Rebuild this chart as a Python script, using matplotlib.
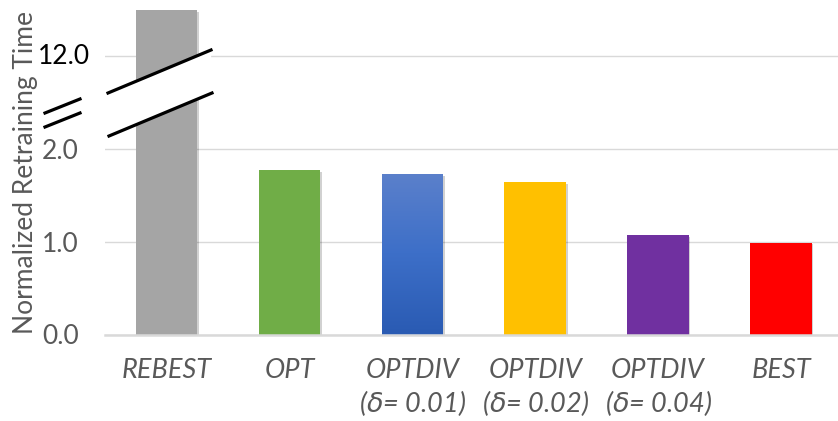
import numpy as np
import matplotlib
matplotlib.use("Agg")
import matplotlib.pyplot as plt
from matplotlib.colors import LinearSegmentedColormap
from matplotlib.patches import Polygon
from matplotlib.lines import Line2D
import matplotlib.patheffects as pe

plt.rcParams['font.family'] = ['Lato', 'DejaVu Sans']

# normalized retraining time per method
methods = ["REBEST", "OPT", "OPTDIV\n($\\delta$= 0.01)", "OPTDIV\n($\\delta$= 0.02)",
           "OPTDIV\n($\\delta$= 0.04)", "BEST"]
times = [17.0, 1.77, 1.73, 1.64, 1.07, 0.99]
colors = ["#a5a5a5", "#70ad47", "#3a6cc4", "#ffc000", "#7030a0", "#ff0000"]
yticks = [0, 1, 2, 12]
ytick_labels = ["0.0", "1.0", "2.0", ""]

# axis is linear up to 2, then compressed 10x above the break
BREAK = 2.0
SQUEEZE = 10.0


def fwd(y):
    y = np.asarray(y, dtype=float)
    return np.where(y <= BREAK, y, BREAK + (y - BREAK) / SQUEEZE)


def inv(y):
    y = np.asarray(y, dtype=float)
    return np.where(y <= BREAK, y, BREAK + (y - BREAK) * SQUEEZE)


W, H = 838, 421
fig = plt.figure(figsize=(W / 100, H / 100), dpi=100)
ax = fig.add_axes([105 / W, (H - 334.5) / H, 735 / W, 324.5 / H])
ax.set_yscale('function', functions=(fwd, inv))

x = np.arange(len(methods))
shadow = [pe.SimplePatchShadow(offset=(1.2, -1.2), shadow_rgbFace='#000000', alpha=0.18),
          pe.Normal()]
bars = ax.bar(x, times, width=0.5, color=colors, zorder=3)
for b in bars:
    b.set_path_effects(shadow)

# blue bar gets a vertical gradient
grad_bar = bars[2]
cmap = LinearSegmentedColormap.from_list("blu", ["#2a5bb3", "#3d6fc8", "#5b80cb"])
bx = grad_bar.get_x()
img = ax.imshow(np.linspace(0, 1, 256).reshape(-1, 1), cmap=cmap, origin='lower',
                extent=(bx, bx + grad_bar.get_width(), 0, grad_bar.get_height()),
                aspect='auto', zorder=3.5)
img.set_clip_path(grad_bar)

ax.set_xlim(-0.5, 5.48)
ax.set_ylim(0, 17)

ax.set_yticks(yticks)
ax.set_yticklabels(ytick_labels)
ax.yaxis.grid(True, color='#d9d9d9', linewidth=1.0, zorder=0)
ax.set_axisbelow(True)
ax.tick_params(axis='y', length=0, pad=19, labelsize=19, labelcolor='#595959')
ax.tick_params(axis='x', length=0, pad=17, labelsize=19.5, labelcolor='#595959')
ax.set_xticks(x)
ax.set_xticklabels(methods, style='italic', linespacing=1.2)
for s in ['top', 'right', 'left']:
    ax.spines[s].set_visible(False)
ax.spines['bottom'].set_color('#d9d9d9')
ax.spines['bottom'].set_linewidth(1.8)
ax.spines['bottom'].set_zorder(4)

# upper tick label sits above the break, in black
ax.text(-15 / 735, 12, "12.0", transform=ax.get_yaxis_transform(),
        ha='right', va='center', fontsize=19, color='black')

ax.set_ylabel("Normalized Retraining Time", fontsize=19, color='#595959')
ax.yaxis.set_label_coords(-67 / 735, 0.5)


def px(xp, yp):
    return (xp / W, 1 - yp / H)


# break marks
gap = Polygon([px(108, 93), px(211, 50), px(212, 93), px(109, 136)],
              closed=True, facecolor='white', edgecolor='none',
              transform=fig.transFigure, zorder=10)
fig.patches.append(gap)
for (x0, y0, x1, y1) in [(108, 93, 211, 50), (109, 136, 212, 93),
                         (45, 113, 80, 99), (45, 127, 80, 113)]:
    p0, p1 = px(x0, y0), px(x1, y1)
    fig.lines.append(Line2D([p0[0], p1[0]], [p0[1], p1[1]], color='black',
                            linewidth=2.3, transform=fig.transFigure, zorder=11))

fig.savefig("out.png", dpi=100)
